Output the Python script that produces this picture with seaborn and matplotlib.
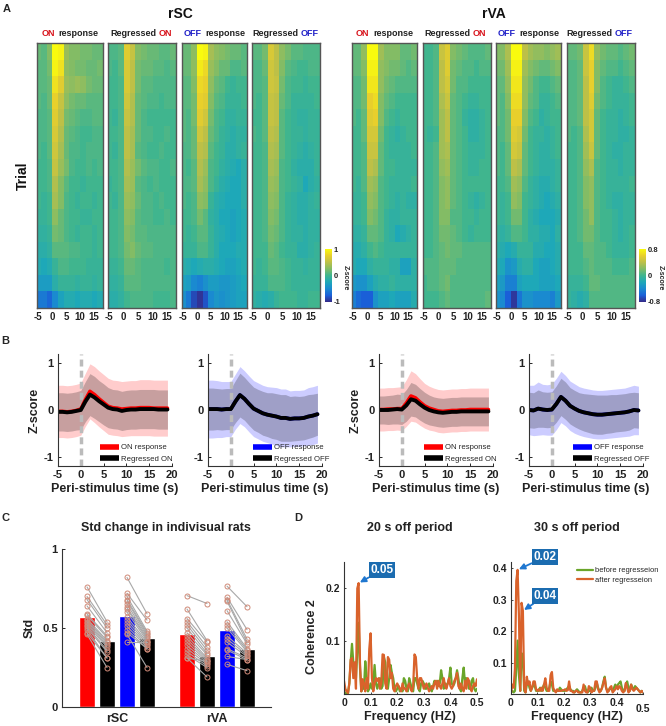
import numpy as np
import pandas as pd
import matplotlib
matplotlib.use("Agg")
import matplotlib.pyplot as plt
from matplotlib.colors import LinearSegmentedColormap
import seaborn as sns

sns.set_style("white")
plt.rcParams['font.family'] = ['Liberation Sans', 'DejaVu Sans']
plt.rcParams['font.weight'] = 'bold'
plt.rcParams['axes.labelweight'] = 'bold'
plt.rcParams['axes.unicode_minus'] = False

# ---------- panel A: coarse estimates, rows = trial bands top to bottom, columns = 2 s time bins
on_rsc = [
 [.15,.10,.25,1.0,.95,.35,.25,.25,.20,.20,.15,.15],
 [.10,.10,.20,.95,.85,.30,.25,.20,.20,.15,.15,.20],
 [.10,.10,.15,.85,.70,.35,.30,.35,.30,.20,.15,.15],
 [.10,.05,.15,.75,.55,.30,.20,.15,.15,.10,.10,.10],
 [.05,.05,.10,.70,.50,.20,.15,.10,.05,.05,.10,.10],
 [.05,.05,.10,.65,.45,.15,.10,.05,.00,.00,.05,.05],
 [.05,.00,.10,.60,.40,.15,.05,.05,.00,.05,.05,.05],
 [.00,.00,.05,.55,.35,.20,.05,.00,.00,.05,.00,.05],
 [.00,.00,.05,.45,.25,.10,.00,.00,-.05,.00,.00,.00],
 [.00,-.05,.00,.40,.25,.05,.00,-.05,.00,.00,-.05,.00],
 [-.05,-.05,.00,.30,.15,.05,.00,.00,-.05,-.05,.00,.00],
 [-.10,-.10,-.05,.20,.15,.05,.00,-.05,.00,.00,-.05,.00],
 [-.15,-.15,-.10,.10,.10,.10,.05,.05,.00,.00,-.05,.00],
 [-.20,-.25,-.20,-.05,.05,.05,.00,.00,.00,-.05,-.05,-.05],
 [-.35,-.35,-.35,-.15,-.05,-.05,-.05,-.10,-.05,-.05,-.10,-.05],
 [-.60,-.60,-.70,-.50,-.30,-.20,-.20,-.25,-.20,-.20,-.25,-.20]]
reg_on_rsc = [
 [.05,.05,.10,.70,.55,.25,.20,.15,.15,.10,.10,.15],
 [.05,.00,.10,.65,.50,.20,.15,.15,.10,.10,.05,.10],
 [.00,.00,.05,.65,.50,.20,.10,.10,.05,.05,.05,.05],
 [.00,.00,.05,.60,.45,.15,.10,.05,.05,.00,.05,.05],
 [.00,-.05,.05,.55,.45,.15,.05,.00,.00,.00,.00,.00],
 [.00,.00,.05,.50,.40,.15,.05,.05,.00,.00,.05,.00],
 [.00,-.05,.05,.50,.40,.10,.05,.00,.00,.05,.00,.00],
 [.00,.00,.05,.45,.35,.20,.10,.05,.05,.00,.00,.05],
 [-.05,.00,.05,.40,.35,.10,.05,.00,.05,.00,.00,.00],
 [.00,-.05,.05,.35,.30,.15,.05,.05,.00,.05,.00,.00],
 [.00,.00,.05,.30,.25,.10,.05,.05,.00,.00,.05,.00],
 [.00,.00,.05,.25,.20,.10,.10,.05,.05,.05,.05,.05],
 [.00,.00,.05,.20,.25,.15,.10,.10,.05,.05,.05,.05],
 [-.05,-.05,.00,.15,.15,.10,.05,.05,.05,.05,.00,.05],
 [-.10,-.10,-.05,.10,.10,.10,.05,.05,.05,.05,.05,.05],
 [-.15,-.15,-.10,.00,.05,.05,.05,.05,.00,.00,.00,.05]]
off_rsc = [
 [.15,.15,.30,1.0,.95,.40,.30,.25,.20,.15,.15,.10],
 [.15,.15,.30,.90,.80,.35,.25,.15,.15,.05,.05,.10],
 [.10,.10,.25,.80,.75,.30,.15,.10,.00,-.05,.00,.00],
 [.10,.10,.20,.75,.70,.25,.10,.05,-.05,-.05,-.05,.00],
 [.10,.05,.20,.70,.60,.20,.05,.00,-.10,-.10,-.05,-.05],
 [.10,.05,.15,.60,.50,.15,.05,-.05,-.10,-.15,-.10,-.10],
 [.05,.05,.15,.50,.45,.10,.00,-.05,-.15,-.15,-.10,-.05],
 [.05,.00,.10,.45,.35,.05,.00,-.10,-.15,-.20,-.25,-.15],
 [.05,.05,.10,.40,.30,.05,-.05,-.15,-.20,-.25,-.25,-.15],
 [.05,.00,.05,.30,.25,-.05,-.15,-.20,-.25,-.25,-.25,-.15],
 [.00,.00,.05,.20,.10,-.10,-.15,-.25,-.25,-.30,-.25,-.20],
 [.00,-.05,.00,.10,.10,-.05,-.15,-.20,-.25,-.30,-.25,-.20],
 [-.05,-.05,-.05,.05,.05,-.05,-.15,-.25,-.25,-.25,-.20,-.20],
 [-.15,-.20,-.25,-.20,-.15,-.15,-.20,-.25,-.30,-.30,-.25,-.20],
 [-.30,-.35,-.50,-.55,-.45,-.35,-.35,-.40,-.40,-.35,-.30,-.25],
 [-.45,-.60,-.85,-.95,-.80,-.50,-.40,-.45,-.40,-.35,-.30,-.30]]
reg_off_rsc = [
 [.10,.10,.20,.65,.50,.30,.20,.10,.10,.05,.05,.05],
 [.05,.05,.15,.60,.50,.25,.10,.05,.00,.00,.05,.05],
 [.05,.05,.10,.60,.55,.20,.05,.00,.00,-.05,.00,.00],
 [.05,.00,.10,.55,.50,.15,.05,-.05,-.05,-.05,-.05,.00],
 [.00,.00,.10,.55,.50,.10,.00,-.05,-.10,-.10,-.05,-.05],
 [.05,.00,.10,.50,.45,.10,.00,-.05,-.05,-.10,-.05,-.05],
 [.00,.00,.05,.45,.40,.10,.00,-.05,-.10,-.15,-.10,-.05],
 [.00,.00,.05,.40,.35,.05,.00,-.10,-.15,-.15,-.15,-.05],
 [.00,.00,.05,.35,.30,.05,.00,-.05,-.10,-.25,-.15,-.10],
 [.00,.00,.05,.30,.25,.05,-.05,-.10,-.15,-.15,-.10,-.05],
 [.00,.00,.05,.25,.20,.05,-.05,-.10,-.15,-.15,-.10,-.10],
 [.00,.00,.05,.20,.15,.05,-.05,-.10,-.10,-.15,-.10,-.10],
 [.00,.00,.00,.15,.10,.00,-.05,-.05,-.15,-.15,-.10,-.05],
 [.00,-.05,.00,.10,.10,.05,.00,-.05,-.05,-.10,-.05,-.05],
 [-.05,-.05,-.05,.05,.05,.05,.00,-.05,-.05,-.05,-.05,-.05],
 [-.10,-.15,-.20,-.15,-.05,.00,.00,.00,-.05,-.05,.00,.00]]
on_rva = [
 [.10,.10,.25,.80,.80,.30,.20,.20,.20,.10,.10,.15],
 [.10,.10,.20,.75,.75,.25,.20,.15,.15,.10,.05,.10],
 [.05,.05,.15,.70,.70,.25,.15,.10,.05,.05,.05,.05],
 [.05,.05,.15,.60,.65,.20,.10,.05,.00,.00,.00,.00],
 [.05,.00,.10,.55,.60,.20,.05,.00,-.05,.00,.00,.00],
 [.00,.00,.10,.50,.50,.15,.00,-.05,-.10,-.05,.00,.00],
 [.00,.00,.05,.45,.45,.10,.00,-.05,-.05,-.05,-.05,.00],
 [.00,.00,.05,.40,.35,.10,.00,.00,-.05,-.05,-.05,-.05],
 [.00,-.05,.05,.30,.25,.05,.00,-.05,-.05,-.05,-.05,.00],
 [-.05,-.05,.00,.25,.20,.05,.00,-.05,-.10,-.05,-.10,-.10],
 [-.05,-.05,.00,.20,.15,.05,-.05,-.10,-.10,-.05,-.05,-.05],
 [-.10,-.10,-.05,.10,.10,.05,-.05,-.10,-.20,-.15,-.10,-.05],
 [-.15,-.15,-.10,.00,.05,.00,-.05,-.05,-.05,-.05,-.05,-.05],
 [-.15,-.20,-.20,-.10,-.05,-.05,-.05,-.10,-.10,-.25,-.25,-.10],
 [-.30,-.35,-.35,-.25,-.15,-.10,-.10,-.05,-.10,-.10,-.10,-.10],
 [-.45,-.55,-.60,-.60,-.35,-.25,-.25,-.20,-.25,-.25,-.25,-.15]]
reg_on_rva = [
 [.00,.00,.05,.45,.55,.20,.15,.10,.05,.05,.05,.10],
 [.00,.00,.05,.40,.55,.15,.10,.05,.05,.00,.05,.05],
 [.00,.00,.05,.40,.50,.15,.05,.05,.00,.00,.00,.00],
 [.00,.00,.05,.35,.45,.10,.05,.00,-.05,-.05,.00,.00],
 [.00,.00,.05,.30,.40,.10,.05,-.05,-.10,-.10,-.05,.00],
 [.00,-.05,.00,.30,.40,.10,.05,.00,-.10,-.10,-.05,.00],
 [.00,.00,.05,.30,.35,.10,.05,.00,-.05,-.05,-.05,.00],
 [.00,.00,.05,.25,.30,.10,.05,.00,-.05,-.05,.00,.00],
 [.00,.00,.05,.20,.25,.10,.05,.00,.00,.00,.00,.00],
 [.00,.00,.05,.20,.25,.10,.05,.00,-.05,-.10,-.05,.00],
 [.00,.00,.05,.20,.20,.05,.05,.00,.00,-.05,.00,.00],
 [.00,.00,.05,.15,.15,.10,.05,.00,-.05,.00,.00,.00],
 [.00,.00,.05,.10,.15,.10,.10,.05,.05,.05,.05,.05],
 [.05,.05,.05,.10,.10,.10,.05,.05,.05,.05,.05,.05],
 [.00,.05,.05,.10,.15,.05,.05,.05,.05,.05,.05,.05],
 [.00,.00,.00,.05,.10,.05,.05,.05,.05,.05,.05,.10]]
off_rva = [
 [.20,.20,.35,.80,.80,.40,.30,.25,.25,.20,.25,.30],
 [.15,.15,.30,.75,.75,.30,.20,.15,.10,.10,.15,.20],
 [.10,.10,.25,.70,.70,.25,.15,.05,.00,.00,.05,.10],
 [.10,.05,.20,.65,.65,.25,.10,.05,-.05,-.05,.00,.05],
 [.10,.05,.15,.60,.60,.20,.05,.00,-.10,-.05,.00,.00],
 [.05,.05,.15,.55,.50,.15,.00,-.05,-.05,-.10,-.05,.00],
 [.05,.00,.10,.50,.45,.10,.00,-.05,-.10,-.10,-.05,.00],
 [.05,.00,.10,.40,.35,.10,.00,-.05,-.10,-.10,-.10,-.05],
 [.00,.00,.05,.30,.25,.05,-.05,-.10,-.15,-.15,-.10,-.05],
 [.00,-.05,.00,.25,.20,.00,-.05,-.10,-.15,-.20,-.15,-.10],
 [.00,-.05,.00,.15,.15,.00,-.10,-.15,-.20,-.20,-.20,-.15],
 [-.05,-.10,-.05,.05,.05,.00,-.10,-.10,-.15,-.15,-.20,-.10],
 [-.10,-.15,-.20,-.15,-.05,-.05,-.05,-.15,-.15,-.20,-.20,-.15],
 [-.15,-.20,-.35,-.30,-.15,-.10,-.10,-.20,-.25,-.25,-.20,-.15],
 [-.25,-.30,-.45,-.45,-.25,-.20,-.20,-.20,-.25,-.25,-.25,-.20],
 [-.35,-.40,-.60,-.75,-.50,-.35,-.35,-.40,-.40,-.40,-.45,-.30]]
reg_off_rva = [
 [.10,.10,.15,.45,.65,.25,.15,.10,.10,.05,.10,.15],
 [.05,.05,.10,.45,.60,.20,.10,.05,.05,.00,.05,.10],
 [.05,.05,.10,.40,.60,.20,.05,.00,-.05,-.05,.00,.05],
 [.05,.05,.10,.40,.55,.15,.05,.00,-.05,-.05,-.05,.00],
 [.05,.05,.10,.40,.50,.10,.00,-.05,-.05,-.10,-.05,.00],
 [.05,.00,.05,.35,.50,.10,.00,-.05,-.05,-.10,-.10,-.05],
 [.00,.00,.05,.30,.45,.10,.00,-.05,-.10,-.10,-.05,-.05],
 [.00,.00,.05,.25,.35,.05,.00,-.05,-.05,-.10,-.05,-.05],
 [.00,.00,.05,.20,.25,.05,.00,-.05,-.05,-.05,-.05,.00],
 [.00,.00,.05,.20,.25,.05,.00,-.05,-.10,-.10,-.05,-.05],
 [.00,.00,.05,.15,.25,.05,.00,.00,-.05,-.10,-.05,-.05],
 [.00,.00,.05,.15,.15,.05,.00,.00,-.05,-.10,-.05,.00],
 [.00,.00,.00,.10,.10,.05,.05,.00,-.05,-.05,-.05,.00],
 [.00,.00,.00,.05,.10,.05,.05,.05,.00,.00,.00,.05],
 [-.05,-.05,-.05,.00,.10,.10,.05,.05,.05,.05,.05,.05],
 [-.05,-.10,-.15,-.10,.05,.05,.05,.05,.05,.05,.05,.05]]

heat_titles = [[('ON', 'red', 42), ('response', 'k', 58)], [('Regressed', 'k', 110), ('ON', 'red', 159)],
               [('OFF', 'blue', 184), ('response', 'k', 205)], [('Regressed', 'k', 252), ('OFF', 'blue', 301)],
               [('ON', 'red', 356), ('response', 'k', 373)], [('Regressed', 'k', 424), ('ON', 'red', 473)],
               [('OFF', 'blue', 498), ('response', 'k', 519)], [('Regressed', 'k', 566), ('OFF', 'blue', 615)]]
heat_ticks = [-5, 0, 5, 10, 15]
heat_t_start, heat_t_end, heat_view_start = -6.09, 18.27, -5.5

# ---------- panel B
time = list(range(-5, 20))
b_ticks = [-5, 0, 5, 10, 15, 20]
rsc_on_mean  = [-.03,-.03,-.04,-.03,-.01,.02,.22,.40,.33,.24,.16,.08,.05,.04,.02,.03,.04,.04,.05,.05,.05,.04,.04,.04,.04]
rsc_on_reg   = [-.04,-.04,-.05,-.04,-.02,.00,.18,.33,.27,.19,.12,.05,.02,.01,-.02,.00,.01,.01,.02,.02,.02,.02,.01,.01,.01]
rsc_on_sd    = [.56,.56,.56,.56,.56,.56,.57,.59,.60,.60,.60,.60,.59,.59,.59,.59,.59,.59,.60,.60,.60,.60,.60,.60,.60]
rsc_onr_sd   = [.41,.41,.41,.41,.41,.42,.43,.45,.45,.44,.44,.43,.42,.42,.42,.42,.42,.42,.42,.42,.42,.42,.42,.42,.42]
rsc_off_mean = [.02,.02,.02,.01,.02,.02,.18,.32,.24,.13,.03,-.02,-.07,-.10,-.12,-.14,-.17,-.17,-.19,-.18,-.18,-.17,-.14,-.12,-.09]
rsc_off_reg  = [.02,.02,.02,.01,.02,.02,.18,.32,.24,.13,.03,-.02,-.07,-.10,-.12,-.14,-.17,-.17,-.19,-.18,-.18,-.17,-.14,-.12,-.09]
rsc_off_sd   = [.62,.62,.61,.60,.59,.59,.59,.61,.60,.60,.60,.60,.60,.60,.61,.62,.62,.62,.60,.60,.60,.60,.62,.62,.62]
rsc_offr_sd  = [.45,.45,.44,.44,.44,.44,.45,.47,.46,.46,.46,.46,.47,.47,.49,.49,.50,.50,.48,.48,.47,.47,.47,.46,.45]
rva_on_mean  = [.01,.01,.02,.02,.03,.03,.15,.30,.26,.17,.09,.04,.01,-.02,-.03,-.02,-.01,-.01,.00,.00,.01,.01,.01,.01,.01]
rva_on_reg   = [.00,.00,.00,.01,.02,.01,.10,.23,.20,.12,.05,.00,-.03,-.05,-.06,-.05,-.04,-.04,-.03,-.03,-.03,-.03,-.03,-.03,-.03]
rva_on_sd    = [.46,.46,.46,.46,.46,.47,.50,.54,.52,.50,.48,.47,.46,.46,.46,.46,.46,.46,.46,.46,.46,.46,.46,.46,.46]
rva_onr_sd   = [.30,.30,.31,.31,.32,.32,.34,.36,.35,.34,.33,.32,.31,.31,.31,.31,.31,.31,.31,.31,.31,.31,.31,.31,.31]
rva_off_mean = [.00,-.01,.03,.01,.00,.01,.13,.28,.20,.09,.03,-.02,-.05,-.07,-.09,-.10,-.10,-.09,-.08,-.07,-.06,-.05,-.03,.00,-.01]
rva_off_reg  = [.00,-.01,.03,.01,.00,.01,.13,.28,.20,.09,.03,-.02,-.05,-.07,-.09,-.10,-.10,-.09,-.08,-.07,-.06,-.05,-.03,.00,-.01]
rva_off_sd   = [.53,.54,.57,.54,.54,.55,.55,.55,.54,.53,.53,.52,.52,.52,.52,.52,.52,.52,.52,.52,.52,.52,.53,.53,.52]
rva_offr_sd  = [.38,.38,.40,.38,.38,.38,.39,.40,.40,.39,.39,.39,.40,.41,.42,.42,.42,.41,.41,.40,.40,.40,.40,.38,.38]

# ---------- panel C
bar_categories = ['rSC ON', 'rSC reg ON', 'rSC OFF', 'rSC reg OFF', 'gap', 'rVA ON', 'rVA reg ON', 'rVA OFF', 'rVA reg OFF']
bar_values = [.57, .42, .575, .435, np.nan, .46, .32, .485, .365]
bar_palette = ['#ff0000', '#000000', '#0000ff', '#000000', '#ffffff', '#ff0000', '#000000', '#0000ff', '#000000']
rsc_on_before  = [.76,.70,.68,.64,.59,.58,.56,.55,.54,.53,.52,.51,.50,.49,.47,.46]
rsc_on_after   = [.54,.52,.50,.47,.45,.44,.42,.41,.40,.39,.38,.36,.35,.31,.31,.25]
rsc_off_before = [.82,.72,.70,.68,.67,.65,.63,.62,.60,.57,.55,.53,.51,.49,.47,.46,.41]
rsc_off_after  = [.59,.55,.48,.47,.46,.45,.44,.43,.42,.41,.40,.39,.38,.37,.37,.25,.41]
rva_on_before  = [.705,.62,.56,.54,.52,.50,.47,.45,.43,.41,.39,.37,.35,.33,.31,.31]
rva_on_after   = [.655,.42,.41,.38,.36,.34,.33,.31,.30,.29,.28,.27,.26,.25,.29,.19]
rva_off_before = [.765,.695,.68,.67,.61,.54,.52,.50,.45,.43,.41,.37,.36,.32,.27]
rva_off_after  = [.635,.49,.43,.41,.40,.37,.36,.35,.34,.33,.32,.31,.30,.30,.23]

# ---------- panel D
coh20_before = [.005,.002,.001,.001,.02,.06,.095,.06,.04,.03,.08,.135,.05,.005,.01,.01,.062,.03,.005,.01,
 .02,.01,.02,.055,.02,.01,.02,.03,.01,.015,.07,.06,.02,.01,.03,.055,.04,.03,.01,.005,
 .01,.015,.005,.01,.005,.03,.025,.01,.005,.03,.02,.01,.005,.03,.03,.02,.01,.005,.02,.025,
 .02,.01,.01,.015,.02,.01,.005,.015,.025,.02,.025,.015,.02,.045,.03,.01,.02,.015,.02,.03,
 .05,.02,.015,.02,.03,.045,.03,.01,.005,.03,.05,.02,.03,.025,.01,.01,.025,.03,.01,.005,.01]
coh20_after = [.025,.01,.005,.002,.02,.065,.068,.03,.06,.01,.2,.21,.06,.005,.028,.02,.005,.03,.01,.085,
 .115,.03,.005,.02,.03,.025,.03,.01,.02,.075,.074,.02,.01,.07,.065,.03,.04,.01,.005,.015,
 .02,.015,.01,.005,.02,.01,.01,.005,.015,.02,.01,.005,.015,.075,.07,.03,.01,.03,.03,.02,
 .01,.015,.02,.012,.005,.01,.015,.01,.02,.025,.01,.025,.015,.01,.02,.03,.015,.01,.02,.03,
 .015,.01,.015,.025,.03,.04,.015,.01,.02,.01,.005,.025,.01,.03,.025,.01,.005,.015,.02,.015,.028]
coh30_before = [.005,.01,.005,.01,.08,.17,.06,.01,.13,.12,.01,.005,.03,.04,.02,.01,.02,.03,.025,.01,
 .01,.01,.02,.01,.02,.03,.02,.01,.01,.02,.04,.03,.01,.01,.01,.01,.01,.02,.015,.01,
 .01,.01,.015,.02,.025,.015,.01,.01,.005,.01,.015,.01,.005,.005,.01,.02,.025,.01,.005,.01,
 .01,.02,.01,.01,.02,.035,.02,.01,.01,.02,.04,.055,.02,.01,.01,.02,.015,.01,.02,.03,
 .02,.03,.035,.04,.02,.01,.01,.03,.04,.02,.01,.03,.02,.015,.025,.02,.015,.01,.005,.01,.005]
coh30_after = [.005,.03,.02,.08,.36,.395,.25,.01,.29,.265,.02,.005,.055,.03,.04,.01,.02,.04,.04,.015,
 .01,.015,.01,.02,.01,.03,.05,.02,.01,.01,.06,.07,.02,.01,.005,.015,.01,.01,.01,.012,
 .012,.015,.01,.012,.04,.01,.01,.005,.005,.01,.01,.005,.005,.005,.005,.03,.01,.005,.005,.025,
 .02,.005,.01,.01,.04,.04,.015,.005,.01,.02,.035,.05,.02,.005,.01,.02,.025,.005,.01,.015,
 .025,.015,.025,.02,.01,.005,.01,.035,.02,.005,.01,.03,.015,.01,.015,.02,.015,.01,.005,.01,.005]

W, H = 666, 726
fig = plt.figure(figsize=(W / 100, H / 100), dpi=100, facecolor='white')

def px_ax(l, t, r, b):
    return fig.add_axes([l / W, 1 - b / H, (r - l) / W, (b - t) / H])

def ftext(x, y, s, **kw):
    kw.setdefault('ha', 'center')
    kw.setdefault('va', 'center')
    kw.setdefault('fontweight', 'bold')
    return fig.text(x / W, 1 - y / H, s, **kw)

parula = LinearSegmentedColormap.from_list('parula_like',
    ['#352a87', '#1a5fd8', '#1a8ad0', '#1ea8b8', '#3fb58f', '#82bc66', '#bcc048', '#e8cf2c', '#f9fb0e'])

# ---------- panel A
heat_boxes = [(37, 103), (108, 176), (182, 247), (252, 320), (352, 417), (423, 491), (496, 561), (567, 635)]
heat_data = [on_rsc, reg_on_rsc, off_rsc, reg_off_rsc, on_rva, reg_on_rva, off_rva, reg_off_rva]
heat_scale = [1, 1, 1, 1, .8, .8, .8, .8]
trial_marks = [.10, .215, .33, .44, .55, .66, .78, .87, .97]
for i, ((l, r), d, vm) in enumerate(zip(heat_boxes, heat_data, heat_scale)):
    ax = px_ax(l, 43, r, 308)
    d = np.array(d)
    cb = i in (3, 7)
    cax = None
    if cb:
        cax = px_ax(325, 249, 332, 302) if i == 3 else px_ax(639, 249, 646, 302)
    sns.heatmap(d, ax=ax, cmap=parula, vmin=-vm, vmax=vm, cbar=cb, cbar_ax=cax, xticklabels=False, yticklabels=False)
    ncol, nrow = d.shape[1], d.shape[0]
    to_col = lambda t: (t - heat_t_start) / (heat_t_end - heat_t_start) * ncol
    ax.set_xlim(to_col(heat_view_start), ncol)
    ax.set_xticks([to_col(t) for t in heat_ticks])
    ax.set_xticklabels([str(t) for t in heat_ticks], fontsize=7, fontweight='bold')
    ax.set_yticks([m * nrow for m in trial_marks])
    ax.set_yticklabels([])
    ax.tick_params(axis='both', direction='in', length=1.8, width=.7, color='k', left=True, bottom=True, top=True, pad=3, labelcolor='#222222')
    for s in ax.spines.values():
        s.set_visible(True)
        s.set_color('#555555')
        s.set_linewidth(1)
    if cb:
        cax.set_yticks([-vm, 0, vm])
        cax.set_yticklabels(['-1' if vm == 1 else '-0.8', '0', '1' if vm == 1 else '0.8'], fontsize=5.5, fontweight='bold')
        cax.tick_params(length=0, pad=1)
    for txt, col, x in heat_titles[i]:
        ftext(x, 33, txt, ha='left', color={'k': '#222222', 'red': '#d8141c', 'blue': '#2222c8'}[col], fontsize=6.5)

ftext(180, 14, 'rSC', fontsize=10, color='#111111')
ftext(494, 14, 'rVA', fontsize=10, color='#111111')
ftext(23, 176, 'Trial', fontsize=10, rotation=90, color='#111111')
ftext(345, 278, 'Z-score', fontsize=5, rotation=270)
ftext(660, 278, 'Z-score', fontsize=5, rotation=270)
ftext(7, 9, 'A', fontsize=8)
ftext(5, 341, 'B', fontsize=8)
ftext(5, 518, 'C', fontsize=8)
ftext(298, 518, 'D', fontsize=8)

# ---------- panel B
line_panels = [
    (58, 172, rsc_on_mean, rsc_on_reg, rsc_on_sd, rsc_onr_sd, '#ff0000', 'ON response', 'Regressed ON', 100),
    (208, 322, rsc_off_mean, rsc_off_reg, rsc_off_sd, rsc_offr_sd, '#0000ff', 'OFF response', 'Regressed OFF', 253),
    (379, 493, rva_on_mean, rva_on_reg, rva_on_sd, rva_onr_sd, '#ff0000', 'ON response', 'Regressed ON', 424),
    (529, 643, rva_off_mean, rva_off_reg, rva_off_sd, rva_offr_sd, '#0000ff', 'OFF response', 'Regressed OFF', 573)]
t = np.array(time, dtype=float)
for i, (l, r, m, mr, sd, sdr, col, lab, labr, lx) in enumerate(line_panels):
    ax = px_ax(l, 354, r, 466)
    m, mr, sd, sdr = map(np.array, (m, mr, sd, sdr))
    ax.fill_between(t, m - sd, m + sd, color=col, alpha=.2, lw=0)
    ax.fill_between(t, mr - sdr, mr + sdr, color='k', alpha=.22, lw=0)
    ax.axvline(0, color='#bbbbbb', lw=2.5, ls=(0, (2, 1.2)), zorder=1.5)
    sns.lineplot(x=t, y=m, ax=ax, color=col, lw=2.6, label=lab, errorbar=None)
    sns.lineplot(x=t, y=mr, ax=ax, color='k', lw=2.8, label=labr, errorbar=None)
    ax.set_xlim(-5, 20)
    ax.set_ylim(-1.2, 1.2)
    ax.set_xticks(b_ticks)
    ax.set_yticks([-1, 0, 1])
    ax.tick_params(axis='both', labelsize=8, direction='in', length=2, width=.7, left=True, bottom=True, pad=3, labelcolor='#222222')
    sns.despine(ax=ax)
    for s in ('left', 'bottom'):
        ax.spines[s].set_color('#333333')
        ax.spines[s].set_linewidth(.8)
    ax.set_xlabel('')
    ftext((l + r) / 2, 489, 'Peri-stimulus time (s)', fontsize=9, color='#222222')
    if i in (0, 2):
        ftext(l - 23, 410, 'Z-score', fontsize=9, rotation=90, color='#222222')
    leg = ax.legend(loc='lower left', bbox_to_anchor=(lx / W, 1 - 463 / H), bbox_transform=fig.transFigure, frameon=False,
                    handlelength=2.5, handletextpad=.25, labelspacing=.55, borderpad=0, borderaxespad=0,
                    prop={'size': 5.6, 'weight': 'normal'})
    for h in leg.get_lines():
        h.set_linewidth(4)
        h.set_solid_capstyle('butt')

# ---------- panel C
ax = px_ax(62, 549, 271, 707)
bar_df = pd.DataFrame({'group': bar_categories, 'value': bar_values})
sns.barplot(data=bar_df, x='group', y='value', hue='group', palette=bar_palette, order=bar_categories,
            width=.8, ax=ax, legend=False, saturation=1, errorbar=None)
ax.set_xlim(-1.25, 9.2)
ax.set_ylim(0, 1)
pair_sets = [(0, 1, rsc_on_before, rsc_on_after), (2, 3, rsc_off_before, rsc_off_after),
             (5, 6, rva_on_before, rva_on_after), (7, 8, rva_off_before, rva_off_after)]
for xa, xb, before, after in pair_sets:
    for y0, y1 in zip(before, after):
        ax.plot([xa, xb], [y0, y1], color='#a8a8a8', lw=.8, zorder=4,
                marker='o', ms=3.6, mfc='none', mec='#cf8a78', mew=.7)
ax.set_xticks([1.5, 6.5])
ax.set_xticklabels(['rSC', 'rVA'], fontsize=9, fontweight='bold')
ax.set_yticks([0, .5, 1])
ax.set_yticklabels(['0', '0.5', '1'], fontsize=8, fontweight='bold')
ax.tick_params(axis='y', direction='in', length=2, width=.7, left=True, pad=3, labelcolor='#222222')
ax.tick_params(axis='x', length=0, pad=4, labelcolor='#222222')
ax.set_xlabel('')
ax.set_ylabel('')
sns.despine(ax=ax)
ax.spines['left'].set_color('#333333')
ax.spines['bottom'].set_color('#333333')
ftext(166, 528, 'Std change in indivisual rats', fontsize=9, color='#222222')
ftext(30, 628, 'Std', fontsize=9, rotation=90, color='#222222')

# ---------- panel D
coh_panels = [(344, 477, .25, [.1, .2], ['0.1', '0.2'], coh20_before, coh20_after, 410, '20 s off period'),
              (511, 643, .42, [.1, .2, .3, .4], ['0.1', '0.2', '0.3', '0.4'], coh30_before, coh30_after, 577, '30 s off period')]
GREEN, ORANGE = '#6aa52a', '#d9622b'
for j, (l, r, ymax, yt, ytl, bef, aft, cx, title) in enumerate(coh_panels):
    ax = px_ax(l, 562, r, 694)
    sns.lineplot(x=np.linspace(0, .5, len(bef)), y=bef, ax=ax, color=GREEN, lw=1.6, errorbar=None, label='before regresseion')
    sns.lineplot(x=np.linspace(0, .5, len(aft)), y=aft, ax=ax, color=ORANGE, lw=1.6, errorbar=None, label='after regresseion')
    ax.set_xlim(0, .5)
    ax.set_ylim(0, ymax)
    ax.set_xticks([0, .1, .2, .3, .4, .5])
    ax.set_xticklabels(['0', '0.1', '0.2', '0.3', '0.4', '0.5'], fontsize=7.5, fontweight='bold')
    ax.set_yticks(yt)
    ax.set_yticklabels(ytl, fontsize=7.5, fontweight='bold')
    ax.tick_params(axis='both', direction='in', length=1.5, width=.6, left=True, bottom=True, pad=3, labelcolor='#222222')
    sns.despine(ax=ax)
    ax.spines['left'].set_color('#333333')
    ax.spines['bottom'].set_color('#333333')
    ax.set_xlabel('')
    ftext(cx, 528, title, fontsize=9, color='#222222')
    ftext(cx, 717, 'Frequency (HZ)', fontsize=9, color='#222222')
    if j == 0:
        ax.get_legend().remove()
        ftext(312, 637, 'Coherence 2', fontsize=9, rotation=90, color='#222222')
        notes = [('0.05', (.055, .21), (382, 570))]
    else:
        ax.xaxis.get_major_ticks()[-1].set_pad(7)
        leg = ax.legend(loc='lower left', bbox_to_anchor=(577 / W, 1 - 584 / H), bbox_transform=fig.transFigure, frameon=False,
                        handlelength=2.1, handletextpad=.3, labelspacing=.3, borderpad=0, borderaxespad=0,
                        prop={'size': 5.4, 'weight': 'normal'})
        for h in leg.get_lines():
            h.set_linewidth(1.6)
        notes = [('0.02', (.025, .395), (545, 557)), ('0.04', (.045, .265), (545, 596))]
    for s, xy, box in notes:
        ax.annotate(s, xy=xy, xycoords='data', xytext=(box[0] / W, 1 - box[1] / H), textcoords='figure fraction',
                    ha='center', va='center', color='white', fontsize=8.5, fontweight='bold',
                    bbox=dict(boxstyle='square,pad=0.15', fc='#1b6cb0', ec='none'),
                    arrowprops=dict(arrowstyle='-|>', color='#1f77d0', lw=1.3, shrinkA=0, shrinkB=1), annotation_clip=False)

fig.savefig('out.png', dpi=100, facecolor='white')
